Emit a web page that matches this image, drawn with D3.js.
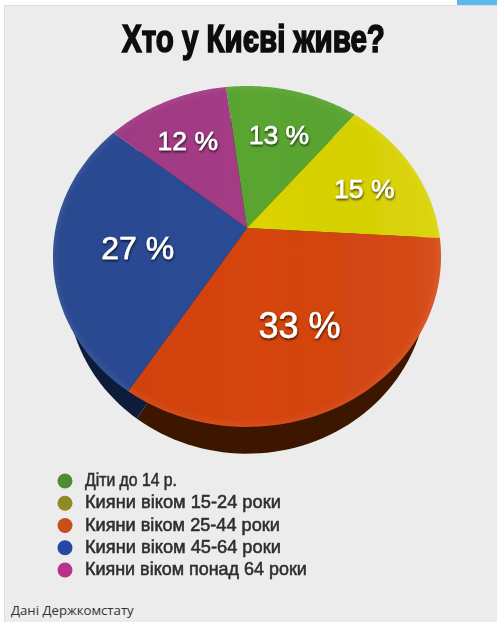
<!DOCTYPE html>
<html>
<head>
<meta charset="utf-8">
<script src="https://cdn.jsdelivr.net/npm/d3@7"></script>
<style>
  html, body { margin: 0; padding: 0; background: #fff; }
  svg { display: block; }
</style>
</head>
<body>
<div id="chart"></div>
<script>
var categories = ['Діти до 14 р.', 'Кияни віком 15-24 роки', 'Кияни віком 25-44 роки', 'Кияни віком 45-64 роки', 'Кияни віком понад 64 роки'];
var shares = [13, 15, 33, 27, 12];
var topColors = ['#5aa532', '#dad300', '#d5440f', '#2b4c96', '#a43b86'];
var wallColors = ['#23400f', '#4a4600', '#3c1400', '#0f1a3a', '#3a1030'];
var legendColors = ['#4f8a35', '#8f8a22', '#c64f1a', '#2547a6', '#b9308f'];

var width = 497, height = 622;

// the pie is a tilted disc, so both faces go through a perspective projection
var tilt = 0.167;
var top_ = { cx: 247, cy: 228, rx: 191.3, ry: 165.7 };
var base = { cx: 247, cy: 258, rx: 177.5, ry: 163 };

function project(face, angle, f) {
  var u = Math.sin(angle) * f, v = -Math.cos(angle) * f, w = 1 - tilt * v;
  return [face.cx + face.rx * u / w, face.cy + face.ry * v / w];
}

var pie = d3.pie().sort(null)
  .startAngle(-7.35 * Math.PI / 180)
  .endAngle((360 - 7.35) * Math.PI / 180);
var slices = pie(shares);

function slicePath(face, s) {
  var pts = [project(face, 0, 0)];
  d3.range(0, 61).forEach(function (i) {
    pts.push(project(face, s.startAngle + (s.endAngle - s.startAngle) * i / 60, 1));
  });
  return d3.line()(pts) + 'Z';
}

// squeeze a text to a measured width, there is no heavy condensed font installed
function fitWidth(sel, x, y, w) {
  sel.attr('transform', function () {
    return 'translate(' + x + ',' + y + ') scale(' + (w / this.getComputedTextLength()) + ',1)';
  });
}

var svg = d3.select('#chart').append('svg')
  .attr('width', width)
  .attr('height', height)
  .attr('viewBox', '0 0 ' + width + ' ' + height);

var defs = svg.append('defs');
defs.append('filter').attr('id', 'soft')
  .attr('x', '-5%').attr('y', '-5%').attr('width', '110%').attr('height', '110%')
  .append('feGaussianBlur').attr('stdDeviation', 0.7);

var shadow = defs.append('filter').attr('id', 'labelShadow')
  .attr('x', '-20%').attr('y', '-20%').attr('width', '140%').attr('height', '150%');
shadow.append('feGaussianBlur').attr('in', 'SourceGraphic').attr('stdDeviation', 0.5).attr('result', 'b');
shadow.append('feDropShadow').attr('in', 'b').attr('dx', 0.5).attr('dy', 1.6).attr('stdDeviation', 0.9)
  .attr('flood-color', '#000').attr('flood-opacity', 0.75);

var textBlur = defs.append('filter').attr('id', 'textBlur')
  .attr('x', '-5%').attr('y', '-20%').attr('width', '110%').attr('height', '140%');
textBlur.append('feGaussianBlur').attr('stdDeviation', 0.55);

var rimBlur = defs.append('filter').attr('id', 'rimBlur');
rimBlur.append('feGaussianBlur').attr('stdDeviation', 2);

var sheen = defs.append('linearGradient').attr('id', 'sheen');
sheen.append('stop').attr('offset', '0%').attr('stop-color', '#000').attr('stop-opacity', 0.04);
sheen.append('stop').attr('offset', '55%').attr('stop-color', '#000').attr('stop-opacity', 0);
sheen.append('stop').attr('offset', '100%').attr('stop-color', '#fff').attr('stop-opacity', 0.06);

// page furniture
svg.append('rect').attr('x', 4).attr('y', 5).attr('width', width - 4).attr('height', height - 5).attr('fill', '#dedede');
svg.append('rect').attr('x', 5).attr('y', 6).attr('width', width - 5).attr('height', height - 6).attr('fill', '#ececec');
svg.append('rect').attr('x', 457).attr('y', 0).attr('width', 40).attr('height', 5).attr('fill', '#5cb8ee');

svg.append('text')
  .attr('font-family', "'Liberation Sans', Arial, sans-serif")
  .attr('font-weight', 'bold')
  .attr('font-size', 38)
  .attr('fill', '#0d0d0d')
  .attr('stroke', '#0d0d0d')
  .attr('stroke-width', 1.7)
  .attr('filter', 'url(#textBlur)')
  .text('Хто у Києві живе?')
  .call(fitWidth, 122, 52, 263);

var chart = svg.append('g').attr('filter', 'url(#soft)');

chart.selectAll('path.wall')
  .data(slices)
  .join('path')
  .attr('class', 'wall')
  .attr('d', function (d) { return slicePath(base, d); })
  .attr('fill', function (d, i) { return wallColors[i]; });

chart.selectAll('path.top')
  .data(slices)
  .join('path')
  .attr('class', 'top')
  .attr('d', function (d) { return slicePath(top_, d); })
  .attr('fill', function (d, i) { return topColors[i]; });

var rim = d3.line()(d3.range(0, 121).map(function (i) { return project(top_, i / 120 * 2 * Math.PI, 1); })) + 'Z';
defs.append('clipPath').attr('id', 'faceClip').append('path').attr('d', rim);

chart.append('path')
  .attr('d', rim)
  .attr('fill', 'url(#sheen)');

chart.append('g')
  .attr('clip-path', 'url(#faceClip)')
  .append('path')
  .attr('d', rim)
  .attr('fill', 'none')
  .attr('stroke', '#fff')
  .attr('stroke-opacity', 0.06)
  .attr('stroke-width', 7)
  .attr('filter', 'url(#rimBlur)');

// labels sit near the slice's middle ray, nudged to where the picture has them
var labelReach = [0.645, 0.7, 0.6, 0.57, 0.666];
var labelNudgeX = [1, 0, -5, 0, -3];
var labelNudgeY = [0, 5, 0, 4, 0];
var labelSize = [26.5, 26.5, 36, 32, 26.5];

svg.selectAll('text.share')
  .data(slices)
  .join('text')
  .attr('class', 'share')
  .attr('transform', function (d, i) {
    var p = project(top_, (d.startAngle + d.endAngle) / 2, labelReach[i]);
    return 'translate(' + (p[0] + labelNudgeX[i]) + ',' + (p[1] + labelNudgeY[i]) + ')';
  })
  .attr('text-anchor', 'middle')
  .attr('dy', '0.36em')
  .attr('font-family', "'Liberation Sans', Arial, sans-serif")
  .attr('font-size', function (d, i) { return labelSize[i]; })
  .attr('fill', '#fff')
  .attr('stroke', '#fff')
  .attr('stroke-width', 0.5)
  .attr('filter', 'url(#labelShadow)')
  .text(function (d) { return d.data + ' %'; });

var legendY = d3.scalePoint().domain(categories).range([481, 570]);
var legendWidth = [92, 196, 195, 196, 222];

svg.selectAll('circle.key')
  .data(categories)
  .join('circle')
  .attr('class', 'key')
  .attr('cx', 65)
  .attr('cy', function (d) { return legendY(d); })
  .attr('r', 7.5)
  .attr('fill', function (d, i) { return legendColors[i]; })
  .attr('filter', 'url(#textBlur)');

svg.selectAll('text.key')
  .data(categories)
  .join('text')
  .attr('class', 'key')
  .attr('font-family', "'Liberation Sans', Arial, sans-serif")
  .attr('font-size', 18.5)
  .attr('fill', '#2e2e2e')
  .attr('stroke', '#2e2e2e')
  .attr('stroke-width', 0.55)
  .attr('filter', 'url(#textBlur)')
  .text(function (d) { return d; })
  .each(function (d, i) {
    d3.select(this).call(fitWidth, 85, legendY(d) + 5, legendWidth[i]);
  });

svg.append('text')
  .attr('x', 11).attr('y', 615)
  .attr('font-family', "'Open Sans', 'Noto Sans', sans-serif")
  .attr('font-size', 13.2)
  .attr('fill', '#333')
  .text('Дані Держкомстату');
</script>
</body>
</html>
